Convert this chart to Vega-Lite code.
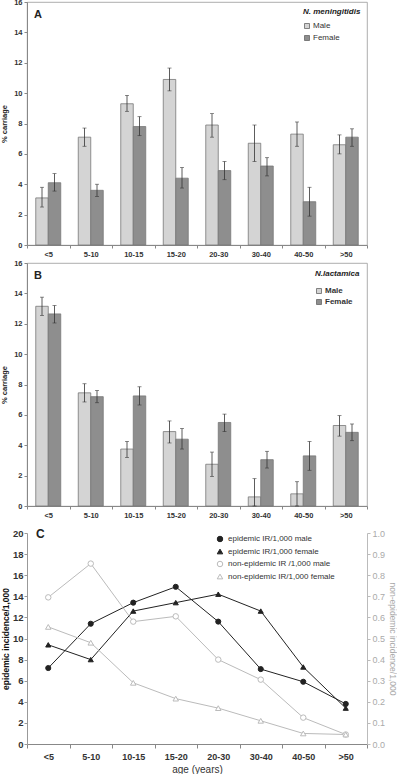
{
  "$schema": "https://vega.github.io/schema/vega-lite/v6.json",
  "padding": {"top": -3, "left": 0, "right": 0, "bottom": 0},
  "background": "white",
  "config": {
    "font": "Liberation Sans",
    "view": {"stroke": null},
    "axis": {"grid": false, "domainColor": "#888", "tickColor": "#888", "tickSize": 3, "labelColor": "#333", "titleColor": "#222"}
  },
  "datasets": {
    "A": [
      {"age": "<5", "sex": "Male", "value": 3.1, "lo": 2.5, "hi": 3.8},
      {"age": "5-10", "sex": "Male", "value": 7.1, "lo": 6.5, "hi": 7.7},
      {"age": "10-15", "sex": "Male", "value": 9.3, "lo": 8.8, "hi": 9.85},
      {"age": "15-20", "sex": "Male", "value": 10.9, "lo": 10.15, "hi": 11.65},
      {"age": "20-30", "sex": "Male", "value": 7.9, "lo": 7.1, "hi": 8.65},
      {"age": "30-40", "sex": "Male", "value": 6.7, "lo": 5.5, "hi": 7.9},
      {"age": "40-50", "sex": "Male", "value": 7.3, "lo": 6.5, "hi": 8.1},
      {"age": ">50", "sex": "Male", "value": 6.6, "lo": 6.0, "hi": 7.25},
      {"age": "<5", "sex": "Female", "value": 4.1, "lo": 3.55, "hi": 4.7},
      {"age": "5-10", "sex": "Female", "value": 3.6, "lo": 3.2, "hi": 4.0},
      {"age": "10-15", "sex": "Female", "value": 7.8, "lo": 7.2, "hi": 8.45},
      {"age": "15-20", "sex": "Female", "value": 4.4, "lo": 3.75, "hi": 5.1},
      {"age": "20-30", "sex": "Female", "value": 4.9, "lo": 4.3, "hi": 5.5},
      {"age": "30-40", "sex": "Female", "value": 5.2, "lo": 4.55, "hi": 5.75},
      {"age": "40-50", "sex": "Female", "value": 2.85, "lo": 1.9, "hi": 3.8},
      {"age": ">50", "sex": "Female", "value": 7.1, "lo": 6.5, "hi": 7.65}
    ],
    "B": [
      {"age": "<5", "sex": "Male", "value": 13.15, "lo": 12.55, "hi": 13.75},
      {"age": "5-10", "sex": "Male", "value": 7.45, "lo": 6.85, "hi": 8.05},
      {"age": "10-15", "sex": "Male", "value": 3.75, "lo": 3.2, "hi": 4.25},
      {"age": "15-20", "sex": "Male", "value": 4.9, "lo": 4.15, "hi": 5.6},
      {"age": "20-30", "sex": "Male", "value": 2.75, "lo": 1.95, "hi": 3.55},
      {"age": "30-40", "sex": "Male", "value": 0.6, "lo": 0, "hi": 1.8},
      {"age": "40-50", "sex": "Male", "value": 0.8, "lo": 0, "hi": 1.6},
      {"age": ">50", "sex": "Male", "value": 5.3, "lo": 4.6, "hi": 5.95},
      {"age": "<5", "sex": "Female", "value": 12.65, "lo": 12.05, "hi": 13.2},
      {"age": "5-10", "sex": "Female", "value": 7.2, "lo": 6.8, "hi": 7.6},
      {"age": "10-15", "sex": "Female", "value": 7.25, "lo": 6.65, "hi": 7.85},
      {"age": "15-20", "sex": "Female", "value": 4.4, "lo": 3.75, "hi": 5.1},
      {"age": "20-30", "sex": "Female", "value": 5.5, "lo": 4.9, "hi": 6.05},
      {"age": "30-40", "sex": "Female", "value": 3.05, "lo": 2.5, "hi": 3.6},
      {"age": "40-50", "sex": "Female", "value": 3.3, "lo": 2.35, "hi": 4.25},
      {"age": ">50", "sex": "Female", "value": 4.85, "lo": 4.3, "hi": 5.4}
    ],
    "C": [
      {"age": "<5", "series": "epidemic IR/1,000 male", "value": 7.2},
      {"age": "5-10", "series": "epidemic IR/1,000 male", "value": 11.4},
      {"age": "10-15", "series": "epidemic IR/1,000 male", "value": 13.4},
      {"age": "15-20", "series": "epidemic IR/1,000 male", "value": 14.9},
      {"age": "20-30", "series": "epidemic IR/1,000 male", "value": 11.6},
      {"age": "30-40", "series": "epidemic IR/1,000 male", "value": 7.1},
      {"age": "40-50", "series": "epidemic IR/1,000 male", "value": 5.9},
      {"age": ">50", "series": "epidemic IR/1,000 male", "value": 3.8},
      {"age": "<5", "series": " epidemic IR/1,000 female", "value": 9.4},
      {"age": "5-10", "series": " epidemic IR/1,000 female", "value": 8.0},
      {"age": "10-15", "series": " epidemic IR/1,000 female", "value": 12.6},
      {"age": "15-20", "series": " epidemic IR/1,000 female", "value": 13.4},
      {"age": "20-30", "series": " epidemic IR/1,000 female", "value": 14.2},
      {"age": "30-40", "series": " epidemic IR/1,000 female", "value": 12.6},
      {"age": "40-50", "series": " epidemic IR/1,000 female", "value": 7.3},
      {"age": ">50", "series": " epidemic IR/1,000 female", "value": 3.4}
    ],
    "D": [
      {"age": "<5", "series": "non-epidemic IR /1,000 male", "value": 0.695},
      {"age": "5-10", "series": "non-epidemic IR /1,000 male", "value": 0.855},
      {"age": "10-15", "series": "non-epidemic IR /1,000 male", "value": 0.58},
      {"age": "15-20", "series": "non-epidemic IR /1,000 male", "value": 0.605},
      {"age": "20-30", "series": "non-epidemic IR /1,000 male", "value": 0.4},
      {"age": "30-40", "series": "non-epidemic IR /1,000 male", "value": 0.305},
      {"age": "40-50", "series": "non-epidemic IR /1,000 male", "value": 0.125},
      {"age": ">50", "series": "non-epidemic IR /1,000 male", "value": 0.045},
      {"age": "<5", "series": "non-epidemic IR/1,000 female", "value": 0.555},
      {"age": "5-10", "series": "non-epidemic IR/1,000 female", "value": 0.48},
      {"age": "10-15", "series": "non-epidemic IR/1,000 female", "value": 0.29},
      {"age": "15-20", "series": "non-epidemic IR/1,000 female", "value": 0.215},
      {"age": "20-30", "series": "non-epidemic IR/1,000 female", "value": 0.17},
      {"age": "30-40", "series": "non-epidemic IR/1,000 female", "value": 0.11},
      {"age": "40-50", "series": "non-epidemic IR/1,000 female", "value": 0.05},
      {"age": ">50", "series": "non-epidemic IR/1,000 female", "value": 0.045}
    ]
  },
  "spacing": 9,
  "resolve": {"scale": {"fill": "independent", "stroke": "independent", "shape": "independent", "x": "independent", "y": "independent"}, "legend": {"fill": "independent", "stroke": "independent", "shape": "independent"}},
  "vconcat": [
    {
      "spacing": 0,
      "resolve": {"scale": {"fill": "independent", "x": "independent", "y": "independent"}, "legend": {"fill": "independent"}},
      "vconcat": [
        {
          "width": 340, "height": 243,
          "view": {"stroke": "#999", "strokeWidth": 0.8},
          "data": {"name": "A"},
          "title": {"text": "A", "anchor": "start", "frame": "group", "offset": -22, "dx": 7, "fontSize": 11, "fontWeight": "bold", "color": "#222"},
          "encoding": {
            "x": {"field": "age", "type": "nominal", "sort": ["<5", "5-10", "10-15", "15-20", "20-30", "30-40", "40-50", ">50"], "scale": {"paddingInner": 0, "paddingOuter": 0},
                  "axis": {"title": null, "labelAngle": 0, "labelFontSize": 7.5, "labelFontWeight": "bold", "tickBand": "extent", "labelPadding": 2}},
            "xOffset": {"field": "sex", "type": "nominal", "sort": ["Male", "Female"], "scale": {"paddingInner": 0, "paddingOuter": 0.7}}
          },
          "layer": [
            {
              "mark": {"type": "bar", "stroke": "#777", "strokeWidth": 0.8},
              "encoding": {
                "y": {"field": "value", "type": "quantitative", "scale": {"domain": [0, 16]},
                      "axis": {"title": "% carriage", "tickCount": 8, "labelFontSize": 7.5, "labelFontWeight": "bold", "titleFontSize": 7.5, "titleFontWeight": "bold", "titlePadding": 5, "labelPadding": 2}},
                "fill": {"field": "sex", "type": "nominal", "sort": ["Male", "Female"], "scale": {"domain": ["Male", "Female"], "range": ["#d4d4d4", "#8e8e8e"]},
                         "legend": {"title": "N. meningitidis", "orient": "top-right", "offset": 6, "titleFontSize": 8, "titleFontStyle": "italic", "titleFontWeight": "bold", "titleColor": "#222", "titlePadding": 6, "labelFontSize": 8, "labelColor": "#333", "symbolType": "square", "symbolSize": 25, "symbolStrokeColor": "#666", "symbolStrokeWidth": 0.8, "rowPadding": 2, "labelOffset": 2}}
              }
            },
            {
              "mark": {"type": "rule", "color": "#333", "strokeWidth": 0.8},
              "encoding": {"y": {"field": "lo", "type": "quantitative"}, "y2": {"field": "hi"}}
            },
            {
              "mark": {"type": "tick", "orient": "horizontal", "color": "#333", "size": 4, "thickness": 0.8},
              "encoding": {"y": {"field": "hi", "type": "quantitative"}}
            },
            {
              "mark": {"type": "tick", "orient": "horizontal", "color": "#333", "size": 4, "thickness": 0.8},
              "encoding": {"y": {"field": "lo", "type": "quantitative"}}
            }
          ]
        },
        {
          "width": 340, "height": 243,
          "view": {"stroke": "#999", "strokeWidth": 0.8},
          "data": {"name": "B"},
          "title": {"text": "B", "anchor": "start", "frame": "group", "offset": -22, "dx": 7, "fontSize": 11, "fontWeight": "bold", "color": "#222"},
          "encoding": {
            "x": {"field": "age", "type": "nominal", "sort": ["<5", "5-10", "10-15", "15-20", "20-30", "30-40", "40-50", ">50"], "scale": {"paddingInner": 0, "paddingOuter": 0},
                  "axis": {"title": null, "labelAngle": 0, "labelFontSize": 7.5, "labelFontWeight": "bold", "tickBand": "extent", "labelPadding": 2}},
            "xOffset": {"field": "sex", "type": "nominal", "sort": ["Male", "Female"], "scale": {"paddingInner": 0, "paddingOuter": 0.7}}
          },
          "layer": [
            {
              "mark": {"type": "bar", "stroke": "#777", "strokeWidth": 0.8},
              "encoding": {
                "y": {"field": "value", "type": "quantitative", "scale": {"domain": [0, 16]},
                      "axis": {"title": "% carriage", "tickCount": 8, "labelFontSize": 7.5, "labelFontWeight": "bold", "titleFontSize": 7.5, "titleFontWeight": "bold", "titlePadding": 5, "labelPadding": 2}},
                "fill": {"field": "sex", "type": "nominal", "sort": ["Male", "Female"], "scale": {"domain": ["Male", "Female"], "range": ["#d4d4d4", "#8e8e8e"]},
                         "legend": {"title": "N.lactamica", "orient": "top-right", "offset": 7, "titleFontSize": 8, "titleFontStyle": "italic", "titleFontWeight": "bold", "titleColor": "#222", "titlePadding": 9, "labelFontSize": 8, "labelFontWeight": "bold", "labelColor": "#333", "symbolType": "square", "symbolSize": 25, "symbolStrokeColor": "#666", "symbolStrokeWidth": 0.8, "rowPadding": 1, "labelOffset": 2}}
              }
            },
            {
              "mark": {"type": "rule", "color": "#333", "strokeWidth": 0.8},
              "encoding": {"y": {"field": "lo", "type": "quantitative"}, "y2": {"field": "hi"}}
            },
            {
              "mark": {"type": "tick", "orient": "horizontal", "color": "#333", "size": 4, "thickness": 0.8},
              "encoding": {"y": {"field": "hi", "type": "quantitative"}}
            },
            {
              "mark": {"type": "tick", "orient": "horizontal", "color": "#333", "size": 4, "thickness": 0.8},
              "encoding": {"y": {"field": "lo", "type": "quantitative"}}
            }
          ]
        }
      ]
    },
    {
      "width": 340, "height": 211,
      "title": {"text": "C", "anchor": "start", "frame": "group", "offset": -13, "dx": 9, "fontSize": 12, "fontWeight": "bold", "color": "#222"},
      "encoding": {
        "x": {"field": "age", "type": "nominal", "sort": ["<5", "5-10", "10-15", "15-20", "20-30", "30-40", "40-50", ">50"], "scale": {"type": "band", "paddingInner": 0, "paddingOuter": 0},
              "axis": {"title": "age (years)", "titleFontSize": 10, "titleFontWeight": "normal", "titleColor": "#333", "titlePadding": 3, "labelAngle": 0, "labelFontSize": 9, "labelFontWeight": "bold", "tickBand": "extent", "labelPadding": 4, "tickSize": 4}}
      },
      "resolve": {"scale": {"y": "independent"}},
      "layer": [
        {
          "data": {"name": "C"},
          "encoding": {
            "y": {"field": "value", "type": "quantitative", "scale": {"domain": [0, 20]},
                  "axis": {"title": "epidemic incidence/1,000", "tickCount": 10, "labelFontSize": 9.5, "labelFontWeight": "bold", "titleFontSize": 8.5, "titleFontWeight": "bold", "titleColor": "#111", "titlePadding": 2, "labelPadding": 1, "tickSize": 3, "domainColor": "#999", "tickColor": "#999"}},
            "stroke": {"field": "series", "type": "nominal", "scale": {"domain": ["epidemic IR/1,000 male", " epidemic IR/1,000 female", "non-epidemic IR /1,000 male", "non-epidemic IR/1,000 female"], "range": ["#222", "#222", "#bbb", "#bbb"]},
                       "legend": {"title": null, "orient": "none", "legendX": 189, "legendY": 2, "labelFontSize": 8, "labelColor": "#333", "rowPadding": 2.5, "labelOffset": 4, "symbolStrokeWidth": 1, "symbolSize": 30}}
          },
          "layer": [
            {"mark": {"type": "line", "strokeWidth": 1}},
            {"mark": {"type": "point", "size": 26, "strokeWidth": 1, "opacity": 1},
             "encoding": {
               "shape": {"field": "series", "type": "nominal", "scale": {"domain": ["epidemic IR/1,000 male", " epidemic IR/1,000 female", "non-epidemic IR /1,000 male", "non-epidemic IR/1,000 female"], "range": ["circle", "triangle-up", "circle", "triangle-up"]}, "legend": null},
               "fill": {"field": "series", "type": "nominal", "scale": {"domain": ["epidemic IR/1,000 male", " epidemic IR/1,000 female", "non-epidemic IR /1,000 male", "non-epidemic IR/1,000 female"], "range": ["#222", "#222", "#ffffff", "#ffffff"]}}
             }}
          ]
        },
        {
          "data": {"name": "D"},
          "encoding": {
            "y": {"field": "value", "type": "quantitative", "scale": {"domain": [0, 1]},
                  "axis": {"orient": "right", "title": "non-epidemic incidence/1,000", "tickCount": 10, "format": ".1f", "labelFontSize": 9, "labelColor": "#aaa", "titleFontSize": 8.5, "titleFontWeight": "normal", "titleColor": "#aaa", "titlePadding": 3, "labelPadding": 2, "tickSize": 3, "domainColor": "#bbb", "tickColor": "#bbb"}},
            "stroke": {"field": "series", "type": "nominal"}
          },
          "layer": [
            {"mark": {"type": "line", "strokeWidth": 1}},
            {"mark": {"type": "point", "size": 30, "strokeWidth": 1, "opacity": 1},
             "encoding": {
               "shape": {"field": "series", "type": "nominal", "legend": null},
               "fill": {"field": "series", "type": "nominal"}
             }}
          ]
        }
      ]
    }
  ]
}
